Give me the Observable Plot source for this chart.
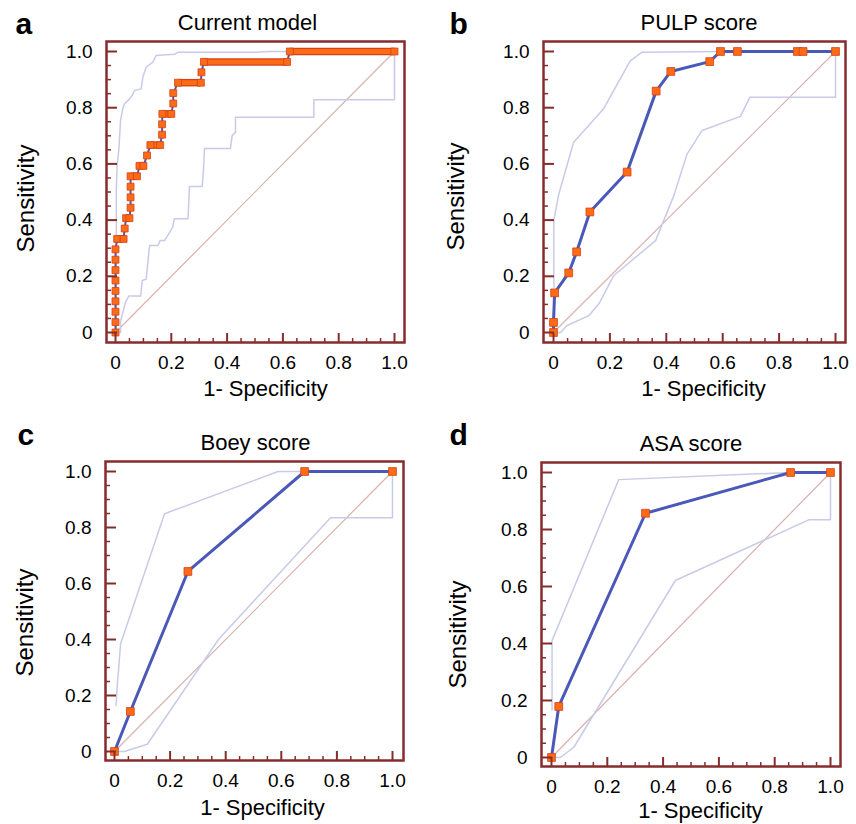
<!DOCTYPE html>
<html>
<head>
<meta charset="utf-8">
<script src="https://cdn.jsdelivr.net/npm/d3@7"></script>
<script src="https://cdn.jsdelivr.net/npm/@observablehq/plot@0.6"></script>
<style>
  body { margin: 0; background: #fff; }
  #root { position: relative; width: 856px; height: 824px; overflow: hidden; background: #fff; }
  .panel { position: absolute; }
</style>
</head>
<body>
<div id="root"></div>
<script>
// ---------- tick values ----------
const majorTicks = [0, 0.2, 0.4, 0.6, 0.8, 1.0];
const minorTicks = [0.05, 0.1, 0.15, 0.25, 0.3, 0.35, 0.45, 0.5, 0.55, 0.65, 0.7, 0.75, 0.85, 0.9, 0.95];
const diagonal = [[0, 0], [1, 1]];

// ---------- panel a: Current model (FPR, TPR) ----------
const rocA = [
  [0, 0], [0, 0.037], [0, 0.074], [0, 0.111], [0, 0.148], [0, 0.185], [0, 0.222], [0, 0.259], [0, 0.296],
  [0.006, 0.333], [0.029, 0.333], [0.033, 0.370], [0.038, 0.407], [0.05, 0.407],
  [0.054, 0.444], [0.054, 0.481], [0.054, 0.519], [0.054, 0.556], [0.077, 0.556],
  [0.086, 0.593], [0.10, 0.593], [0.113, 0.630], [0.125, 0.667], [0.16, 0.667],
  [0.167, 0.704], [0.167, 0.741], [0.168, 0.778], [0.20, 0.778],
  [0.207, 0.815], [0.207, 0.852], [0.224, 0.889], [0.306, 0.889],
  [0.308, 0.926], [0.317, 0.963], [0.615, 0.963], [0.625, 1.0], [1.0, 1.0]
];
const upperA = [
  [0, 0], [0.003, 0.01], [0.003, 0.51], [0.006, 0.60], [0.012, 0.65], [0.018, 0.754], [0.026, 0.796],
  [0.032, 0.813], [0.045, 0.826], [0.06, 0.843], [0.068, 0.861], [0.092, 0.867], [0.098, 0.909],
  [0.11, 0.944], [0.134, 0.962], [0.146, 0.986], [0.211, 0.99], [0.223, 0.997], [0.50, 0.997],
  [0.55, 1.0], [1.0, 1.0]
];
const lowerA = [
  [0, 0], [0.018, 0], [0.018, 0.04], [0.036, 0.108], [0.048, 0.13], [0.09, 0.13], [0.096, 0.185],
  [0.11, 0.19], [0.122, 0.31], [0.152, 0.31], [0.16, 0.327], [0.176, 0.327], [0.187, 0.345],
  [0.205, 0.375], [0.211, 0.405], [0.26, 0.405], [0.265, 0.52], [0.311, 0.52], [0.316, 0.59],
  [0.319, 0.655], [0.412, 0.655], [0.418, 0.70], [0.43, 0.713], [0.43, 0.766], [0.711, 0.766],
  [0.711, 0.828], [1.0, 0.828], [1.0, 1.0]
];

// ---------- panel b: PULP score ----------
const rocB = [
  [0, 0], [0, 0.036], [0.004, 0.141], [0.054, 0.212], [0.082, 0.287], [0.129, 0.429],
  [0.261, 0.571], [0.364, 0.859], [0.416, 0.929], [0.554, 0.964], [0.592, 1.0],
  [0.652, 1.0], [0.865, 1.0], [0.885, 1.0], [1.0, 1.0]
];
const upperB = [
  [0.002, 0.16], [0.001, 0.209], [0.001, 0.399], [0.019, 0.493], [0.071, 0.676],
  [0.177, 0.795], [0.272, 0.967], [0.313, 0.997], [0.59, 1.0], [1.0, 1.0]
];
const lowerB = [
  [0, 0], [0.025, 0], [0.048, 0.025], [0.125, 0.06], [0.161, 0.102], [0.214, 0.203],
  [0.362, 0.327], [0.427, 0.488], [0.474, 0.636], [0.527, 0.719], [0.663, 0.769],
  [0.696, 0.837], [1.0, 0.837], [1.0, 1.0]
];

// ---------- panel c: Boey score ----------
const rocC = [[0, 0], [0.057, 0.143], [0.264, 0.643], [0.684, 1.0], [1.0, 1.0]];
const upperC = [[0.006, 0.164], [0.008, 0.21], [0.022, 0.385], [0.18, 0.849], [0.588, 1.0], [1.0, 1.0]];
const lowerC = [[0, 0], [0.036, 0], [0.118, 0.026], [0.374, 0.40], [0.777, 0.835], [1.0, 0.835], [1.0, 1.0]];

// ---------- panel d: ASA score ----------
const rocD = [[0, 0], [0.026, 0.179], [0.337, 0.857], [0.857, 1.0], [1.0, 1.0]];
const upperD = [[0.002, 0.167], [0.002, 0.41], [0.241, 0.975], [0.857, 1.0], [1.0, 1.0]];
const lowerD = [[0, 0], [0.032, 0], [0.08, 0.036], [0.444, 0.621], [0.922, 0.834], [1.0, 0.834], [1.0, 1.0]];

const titles = ["Current model", "PULP score", "Boey score", "ASA score"];
const letters = ["a", "b", "c", "d"];
const xLabel = "1- Specificity";
const yLabel = "Sensitivity";

// ---------- styling ----------
const FRAME = "#862c2c";
const BLUE = "#4a58b8";
const ORANGE = "#ff6a14";
const EDGE = "#d1421a";
const CI = "#c8cbe8";
const DIAG = "#d9b1ae";
const FONT = "'Liberation Sans', Arial, Helvetica, sans-serif";

const specs = [
  {left: 0, top: 0, frame: [106, 41, 404, 342], x0: 115, x1: 394, y1: 51, y0: 332,
   roc: rocA, upper: upperA, lower: lowerA, dense: true,
   title: [247, 29], letter: [15, 33], xl: [265, 395], yl: [26, 198]},
  {left: 428, top: 0, frame: [543, 41, 845, 342], x0: 553, x1: 835, y1: 51, y0: 332,
   roc: rocB, upper: upperB, lower: lowerB, dense: false,
   title: [698.5, 29], letter: [449, 33], xl: [703, 395], yl: [456, 196]},
  {left: 0, top: 412, frame: [105, 461, 403, 760], x0: 114, x1: 392, y1: 471, y0: 751,
   roc: rocC, upper: upperC, lower: lowerC, dense: false,
   title: [255, 449], letter: [17, 444], xl: [262, 814], yl: [25, 622]},
  {left: 428, top: 412, frame: [541, 462, 840, 766], x0: 551, x1: 830, y1: 472, y0: 757,
   roc: rocD, upper: upperD, lower: lowerD, dense: false,
   title: [690.5, 450], letter: [449, 444], xl: [700, 817], yl: [458, 634]}
];

const fmt = d => d === 0 ? "0" : d.toFixed(1);
const root = document.getElementById("root");

specs.forEach((s, k) => {
  const W = 428, H = 412;
  const [fx0, fy0, fx1, fy1] = s.frame;
  const mL = fx0 - s.left, mT = fy0 - s.top, mR = s.left + W - fx1, mB = s.top + H - fy1;
  const sx = s.x1 - s.x0, sy = s.y0 - s.y1;
  const xd = [-(s.x0 - fx0) / sx, 1 + (fx1 - s.x1) / sx];
  const yd = [-(fy1 - s.y0) / sy, 1 + (s.y1 - fy0) / sy];
  const fw = fx1 - fx0, fh = fy1 - fy0;

  const runs = [];
  if (s.dense) {
    for (let i = 0; i < s.roc.length - 1; i++) {
      if (s.roc[i][1] === s.roc[i + 1][1]) runs.push([s.roc[i][0], s.roc[i + 1][0], s.roc[i][1]]);
    }
  }
  const pos = (p) => ({dx: p[0] - fx0, dy: p[1] - fy0});

  const chart = Plot.plot({
    width: W, height: H,
    marginLeft: mL, marginTop: mT, marginRight: mR, marginBottom: mB,
    x: {domain: xd, axis: null},
    y: {domain: yd, axis: null},
    style: {fontFamily: FONT, fontSize: "19px", background: "transparent", color: "#000", overflow: "visible"},
    marks: [
      Plot.line(diagonal, {x: d => d[0], y: d => d[1], stroke: DIAG, strokeWidth: 1.2}),
      Plot.line(s.upper, {x: d => d[0], y: d => d[1], stroke: CI, strokeWidth: 1.5}),
      Plot.line(s.lower, {x: d => d[0], y: d => d[1], stroke: CI, strokeWidth: 1.5}),
      Plot.line(s.roc, {x: d => d[0], y: d => d[1], stroke: BLUE, strokeWidth: s.dense ? 2 : 3}),
      s.dense ? Plot.link(runs, {x1: d => d[0], x2: d => d[1], y1: d => d[2], y2: d => d[2], stroke: EDGE, strokeWidth: 7.5}) : null,
      s.dense ? Plot.link(runs, {x1: d => d[0], x2: d => d[1], y1: d => d[2], y2: d => d[2], stroke: ORANGE, strokeWidth: 5}) : null,
      Plot.dot(s.roc, {x: d => d[0], y: d => d[1], symbol: "square", r: s.dense ? 3.9 : 4.4, fill: ORANGE, stroke: EDGE, strokeWidth: 0.8}),
      Plot.frame({stroke: FRAME, strokeWidth: 2.5}),
      Plot.tickX(minorTicks, {x: d => d, insetTop: fh - 4, stroke: FRAME, strokeWidth: 1.5}),
      Plot.tickX(majorTicks, {x: d => d, insetTop: fh - 9, stroke: FRAME, strokeWidth: 2}),
      Plot.tickY(minorTicks, {y: d => d, insetRight: fw - 5, stroke: FRAME, strokeWidth: 1.5}),
      Plot.tickY(majorTicks, {y: d => d, insetRight: fw - 11, stroke: FRAME, strokeWidth: 2}),
      Plot.axisX(majorTicks, {tickSize: 0, tickPadding: 13, tickFormat: fmt, label: null}),
      Plot.axisY(majorTicks, {tickSize: 0, tickPadding: 14, tickFormat: fmt, label: null}),
      Plot.text([titles[k]], {frameAnchor: "top-left", ...pos(s.title), textAnchor: "middle", lineAnchor: "bottom", fontSize: 22, text: d => d}),
      Plot.text([letters[k]], {frameAnchor: "top-left", ...pos(s.letter), textAnchor: "start", lineAnchor: "bottom", fontSize: 30, fontWeight: "bold", text: d => d}),
      Plot.text([xLabel], {frameAnchor: "top-left", ...pos(s.xl), textAnchor: "middle", lineAnchor: "bottom", fontSize: 22, text: d => d}),
      Plot.text([yLabel], {frameAnchor: "top-left", ...pos(s.yl), textAnchor: "middle", lineAnchor: "middle", rotate: -90, fontSize: 24, text: d => d})
    ]
  });
  const div = document.createElement("div");
  div.className = "panel";
  div.style.left = s.left + "px";
  div.style.top = s.top + "px";
  div.appendChild(chart);
  root.appendChild(div);
});
</script>
</body>
</html>
